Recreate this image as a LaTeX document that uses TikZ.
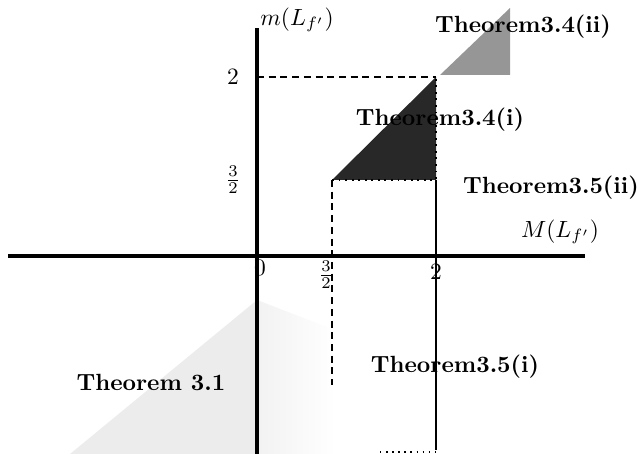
\documentclass[tikz,border=0pt]{standalone}
\usepackage{amsmath}
\usepackage{xcolor}
\usepackage{tikz}
\usetikzlibrary{positioning}
\definecolor{regiondark}{RGB}{40, 40, 40}
\definecolor{regionmid}{RGB}{150, 150, 150}
\definecolor{regionlight}{RGB}{236, 236, 236}

\begin{document}
\begin{tikzpicture}[x=0.015cm, y=-0.015cm,
    axis/.style={line width=1.3pt},
    guide/.style={densely dashed, line width=0.5pt},
    thm/.style={font=\fontsize{10}{12}\selectfont\bfseries, inner sep=1pt},
    tick/.style={font=\normalsize, inner sep=1pt}
]
\useasboundingbox (0,0) rectangle (637,454);

% shaded regions
\fill[regionlight] (70,454) -- (257,300) -- (257,454) -- cycle;
\shade[left color=regionlight!70, right color=white] (257,300) -- (335,330) -- (335,454) -- (257,454) -- cycle;
\fill[regiondark] (332,180) -- (436,77) -- (436,180) -- cycle;
\fill[regionmid] (440,75) -- (510,8) -- (510,75) -- cycle;

% axes and points
\coordinate (xl) at (8,256);
\coordinate (xr) at (585,256);
\coordinate (yb) at (257,454);
\coordinate (yt) at (257,28);
\coordinate (p2) at (257,77);
\coordinate (q2) at (436,77);
\coordinate (qa) at (332,180);
\coordinate (qb) at (436,180);
\coordinate (qc) at (332,385);
\coordinate (qd) at (436,450);
\coordinate (qe) at (380,452);
\coordinate (qf) at (436,452);

\draw[axis] (xl) -- (xr);
\draw[axis] (yb) -- (yt);
\draw[guide] (p2) -- (q2);
\draw[guide] (qa) -- (qc);
\draw[dotted, line width=0.8pt] (qa) -- (qb) -- (q2);
\draw[line width=0.5pt] (qb) -- (qd);
\draw[dotted, line width=0.6pt] (qe) -- (qf);

% labels
\node[tick] (ylab) at (297,20) {$m(L_{f'})$};
\node[tick] (xlab) at (560,232) {$M(L_{f'})$};
\node[tick] (y2) at (233,77) {$2$};
\node[tick] (y32) at (233,180) {$\frac{3}{2}$};
\node[tick] (x0) at (260,268) {$0$};
\node[tick] (x32) at (326,275) {$\frac{3}{2}$};
\node[tick] (x2) at (436,272) {$2$};

\node[thm] (t34ii) at (523,27) {Theorem3.4(ii)};
\node[thm] (t34i) at (440,120) {Theorem3.4(i)};
\node[thm] (t35ii) at (551,188) {Theorem3.5(ii)};
\node[thm] (t31) at (151,382) {Theorem 3.1};
\node[thm] (t35i) at (455,367) {Theorem3.5(i)};

\end{tikzpicture}
\end{document}
